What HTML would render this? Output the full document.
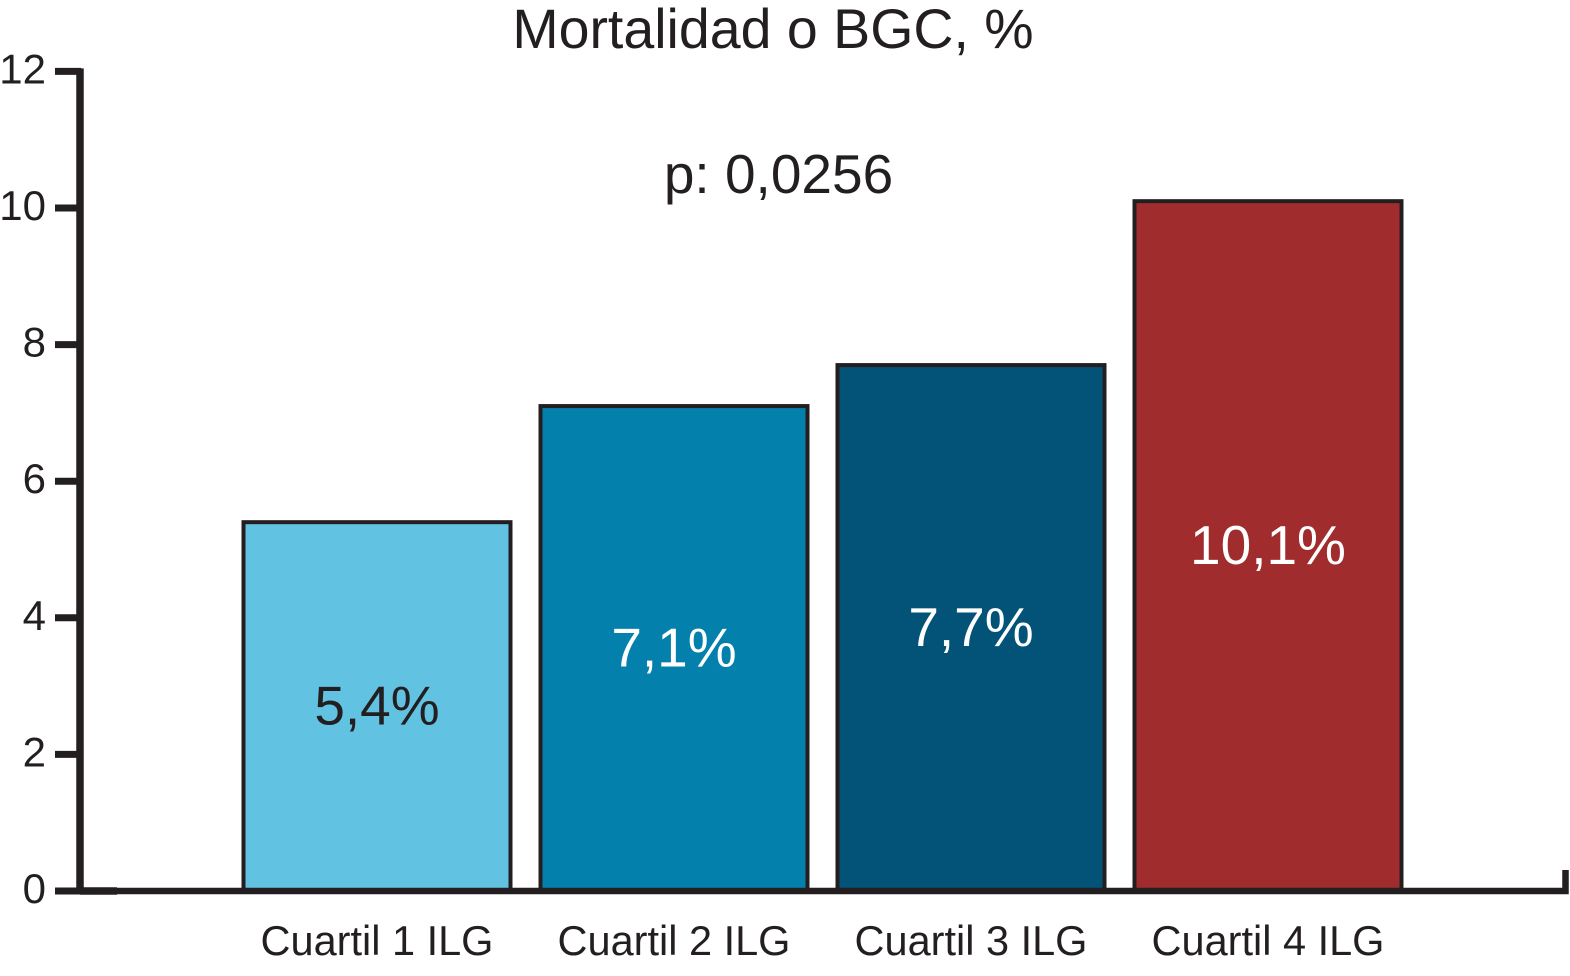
<!DOCTYPE html>
<html lang="es">
<head>
<meta charset="utf-8">
<title>Mortalidad o BGC, %</title>
<style>
html,body{margin:0;padding:0;background:#fff;width:1570px;height:976px;overflow:hidden}
svg{display:block}
text{font-family:"Liberation Sans",Arial,sans-serif;fill:#231f20}
</style>
</head>
<body>
<svg id="chart" xmlns="http://www.w3.org/2000/svg" width="1570" height="976" viewBox="0 0 1570 976">
  <rect x="0" y="0" width="1570" height="976" fill="#ffffff"/>
  <text x="773" y="48" font-size="55.5" text-anchor="middle">Mortalidad o BGC, %</text>
  <text x="778.5" y="193" font-size="55" text-anchor="middle">p: 0,0256</text>
  <g id="bars"></g>
  <g id="axes"></g>
</svg>
<script>
const categories = ['Cuartil 1 ILG', 'Cuartil 2 ILG', 'Cuartil 3 ILG', 'Cuartil 4 ILG'];
const seriesValues = [5.4, 7.1, 7.7, 10.1];
const printedValues = ['5,4%', '7,1%', '7,7%', '10,1%'];
const barColors = ['#62c2e2', '#0380ab', '#035379', '#a02c2d'];
const labelColors = ['#231f20', '#ffffff', '#ffffff', '#ffffff'];
const yTicks = [0, 2, 4, 6, 8, 10, 12];

const NS = 'http://www.w3.org/2000/svg';
const INK = '#231f20';
function yScale(v) { return 891 - v * 68.3; }
function xCenter(i) { return 377 + i * 297; }
function make(tag, attrs, parent, text) {
  const el = document.createElementNS(NS, tag);
  for (const k in attrs) el.setAttribute(k, attrs[k]);
  if (text !== undefined) el.textContent = text;
  parent.appendChild(el);
  return el;
}
const barsG = document.getElementById('bars');
const axesG = document.getElementById('axes');
const BAR_W = 267;

seriesValues.forEach(function (v, i) {
  const top = yScale(v), base = yScale(0), cx = xCenter(i);
  const r = make('rect', {x: cx - BAR_W / 2, y: top, width: BAR_W, height: base - top, fill: barColors[i], stroke: INK, 'stroke-width': 4}, barsG);
  
  
  const t = make('text', {x: cx, y: (top + base) / 2 + 18, 'font-size': 55, 'text-anchor': 'middle', style: 'fill:' + labelColors[i]}, barsG, printedValues[i]);
  
  
  const c = make('text', {x: cx, y: 955, 'font-size': 41.5, 'text-anchor': 'middle'}, axesG, categories[i]);
  
  
});

const yLine = make('line', {x1: 80, y1: yScale(12) - 3, x2: 80, y2: yScale(0), stroke: INK, 'stroke-width': 7.5}, axesG);



const xLine = make('path', {d: 'M80 ' + yScale(0) + 'H1565.5V870', fill: 'none', stroke: INK, 'stroke-width': 6.5}, axesG);



const xThick = make('line', {x1: 80, y1: yScale(0), x2: 117, y2: yScale(0), stroke: INK, 'stroke-width': 7.5}, axesG);



yTicks.forEach(function (v) {
  const y = yScale(v);
  const tick = make('line', {x1: 55, y1: y, x2: 81, y2: y, stroke: INK, 'stroke-width': 7}, axesG);
  
  
  const lbl = make('text', {x: 46, y: y + 12, 'font-size': 42, 'text-anchor': 'end'}, axesG, String(v));
  
  
});
</script>
</body>
</html>
